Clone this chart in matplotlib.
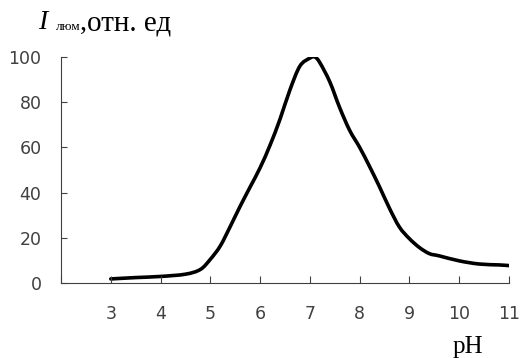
import matplotlib
matplotlib.use('Agg')
import matplotlib.pyplot as plt
import numpy as np
from matplotlib.path import Path
from matplotlib.patches import PathPatch

# values
ph = [3, 3.5, 4, 4.5, 4.8, 5, 5.2, 5.4, 5.6, 5.8, 6, 6.2, 6.4, 6.6, 6.8,
      7, 7.1, 7.2, 7.4, 7.6, 7.8, 8, 8.2, 8.4, 8.6, 8.8, 9, 9.2, 9.4, 9.6,
      10, 10.4, 10.8, 11]
intensity = [1.8, 2.4, 2.9, 3.9, 6, 10.5, 16.4, 25, 34, 42.5, 51, 61, 72.5,
             85.5, 96, 99.5, 100, 97.5, 89, 77.5, 67.5, 60, 51.5, 42.5, 33,
             24.7, 19.6, 15.7, 13, 12, 9.8, 8.4, 8, 7.7]

x_ticks = [2, 3, 4, 5, 6, 7, 8, 9, 10, 11]
x_labels = ['', '3', '4', '5', '6', '7', '8', '9', '10', '11']
y_ticks = [0, 20, 40, 60, 80, 100]


def smooth_path(xs, ys):
    # Catmull-Rom segments drawn as cubic Bezier curves through the points
    pts = np.column_stack([xs, ys]).astype(float)
    verts = [pts[0]]
    codes = [Path.MOVETO]
    n = len(pts)
    for i in range(n - 1):
        p0 = pts[max(i - 1, 0)]
        p1 = pts[i]
        p2 = pts[i + 1]
        p3 = pts[min(i + 2, n - 1)]
        verts += [p1 + (p2 - p0) / 6, p2 - (p3 - p1) / 6, p2]
        codes += [Path.CURVE4] * 3
    return Path(verts, codes)


fig = plt.figure(figsize=(5.22, 3.58), dpi=100)
ax = fig.add_axes([61 / 522, 75 / 358, 448 / 522, 226 / 358])

ax.add_patch(PathPatch(smooth_path(ph, intensity), fill=False,
                       edgecolor='black', lw=2.6, capstyle='round',
                       joinstyle='round'))

ax.set_xlim(2, 11)
ax.set_ylim(0, 100)
ax.set_xticks(x_ticks)
ax.set_xticklabels(x_labels)
ax.set_yticks(y_ticks)

axis_color = '#404040'
for side in ['top', 'right']:
    ax.spines[side].set_visible(False)
for side in ['left', 'bottom']:
    ax.spines[side].set_color(axis_color)
    ax.spines[side].set_linewidth(0.8)

ax.tick_params(axis='x', direction='in', length=4.8, width=0.8,
               color=axis_color, labelcolor='#404040', labelsize=12.5, pad=16)
ax.tick_params(axis='y', direction='in', length=4.2, width=0.8,
               color=axis_color, labelcolor='#404040', labelsize=12.5, pad=14)
for lab in ax.get_xticklabels() + ax.get_yticklabels():
    lab.set_fontfamily('DejaVu Sans')

# axis titles
serif = 'Liberation Serif'
fig.text(38 / 522, 1 - 29 / 358, 'I', family=serif, style='italic',
         fontsize=20, va='baseline', ha='left')
fig.text(55.5 / 522, 1 - 30 / 358, 'люм', family=serif, fontsize=9.5,
         va='baseline', ha='left')
fig.text(79.5 / 522, 1 - 30 / 358, ',', family=serif, fontsize=20,
         va='baseline', ha='left')
fig.text(87 / 522, 1 - 30 / 358, 'отн. ед', family=serif, fontsize=21,
         va='baseline', ha='left')
fig.text(453 / 522, 1 - 353 / 358, 'pH', family=serif, fontsize=18,
         va='baseline', ha='left')

fig.savefig('out.png', dpi=100)
